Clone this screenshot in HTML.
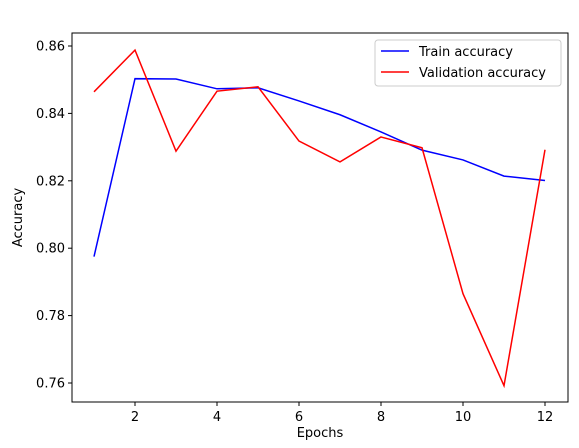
<!DOCTYPE html>
<html><head><meta charset="utf-8"><style>
body{margin:0;background:#fff;}
svg{display:block;font-family:"DejaVu Sans","Liberation Sans",sans-serif;}
</style></head><body>
<svg id="chart" width="579" height="448"></svg>
<script>
const epochs=[1,2,3,4,5,6,7,8,9,10,11,12];
const trainAcc=[0.7975,0.8503,0.8502,0.8473,0.8476,0.8437,0.8396,0.8345,0.8291,0.8262,0.8214,0.8201];
const valAcc=[0.8464,0.8588,0.8288,0.8466,0.8479,0.8318,0.8256,0.8330,0.8298,0.7865,0.7592,0.8292];
const xTicks=[2,4,6,8,10,12];
const yTicks=[0.76,0.78,0.80,0.82,0.84,0.86];
const NS="http://www.w3.org/2000/svg";
const svg=document.getElementById('chart');
const L=72,R=568,T=33,B=402;
const x=v=>94+(v-1)*(545-94)/11;
const y=v=>383-(v-0.76)*(383-46)/0.10;
function mk(tag,attrs,parent){const e=document.createElementNS(NS,tag);for(const k in attrs)e.setAttribute(k,attrs[k]);(parent||svg).appendChild(e);return e;}
const frame=mk('rect',{x:L,y:T,width:R-L,height:B-T,fill:'none',stroke:'#000','stroke-width':1});


xTicks.forEach(t=>{
  const g=mk('g',{});
  
  
  mk('line',{x1:x(t),x2:x(t),y1:B,y2:B+4,stroke:'#000'},g);
  const tx=mk('text',{x:x(t),y:B+19,'text-anchor':'middle','font-size':13},g);tx.textContent=t;
});
yTicks.forEach(t=>{
  const g=mk('g',{});
  
  
  mk('line',{x1:L-4,x2:L,y1:y(t),y2:y(t),stroke:'#000'},g);
  const tx=mk('text',{x:L-7,y:y(t)+4.5,'text-anchor':'end','font-size':13},g);tx.textContent=t.toFixed(2);
});
const xl=mk('text',{x:(L+R)/2,y:437,'text-anchor':'middle','font-size':13});xl.textContent='Epochs';


const yl=mk('text',{x:0,y:0,'text-anchor':'middle','font-size':13,transform:`translate(22,${(T+B)/2}) rotate(-90)`});yl.textContent='Accuracy';


function series(vals,color,name){
  const p=mk('polyline',{points:vals.map((v,i)=>x(epochs[i])+','+y(v)).join(' '),fill:'none',stroke:color,'stroke-width':1.5});
  
  
}
series(trainAcc,'#0000ff','train-accuracy-line');
series(valAcc,'#ff0000','validation-accuracy-line');
const lg=mk('g',{});


mk('rect',{x:375,y:40,width:186,height:46,rx:3,fill:'#fff',stroke:'#ccc'},lg);
[['Train accuracy','#0000ff',56],['Validation accuracy','#ff0000',77]].forEach(([lab,c,yy])=>{
  const e=mk('g',{},lg);
  
  
  mk('line',{x1:381,x2:409,y1:yy-5,y2:yy-5,stroke:c,'stroke-width':1.5},e);
  const t=mk('text',{x:419,y:yy,'font-size':13},e);t.textContent=lab;
});
</script>
</body></html>
